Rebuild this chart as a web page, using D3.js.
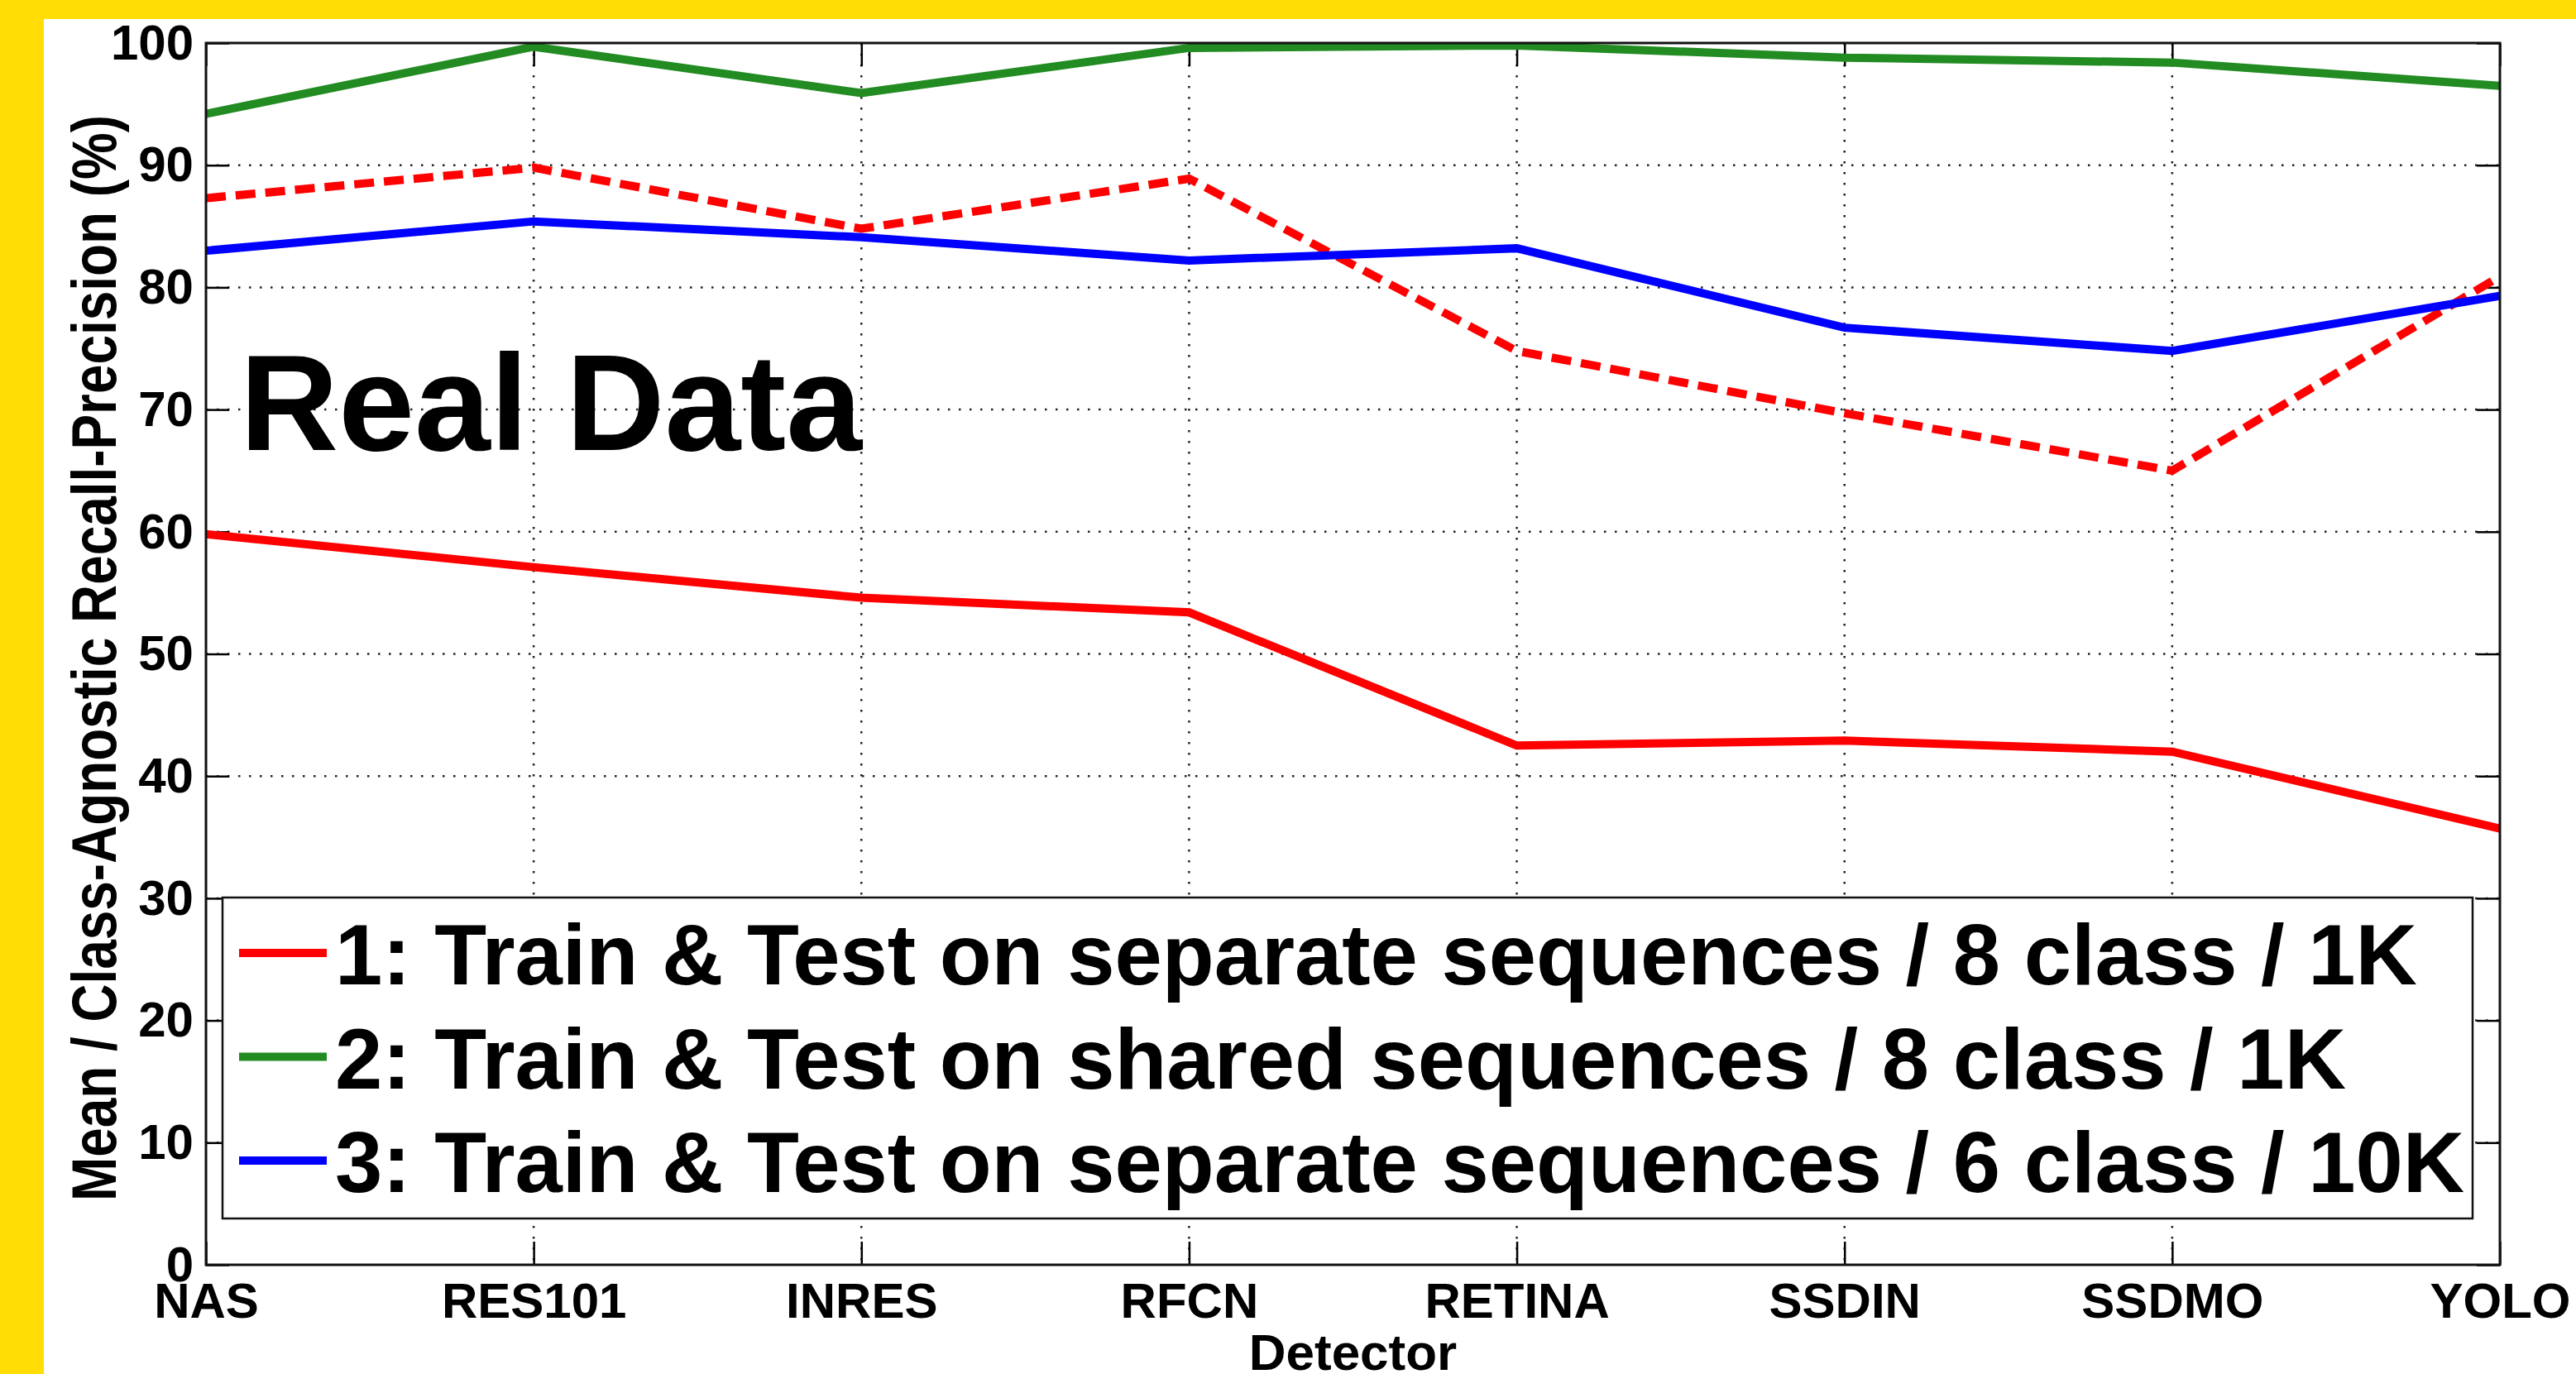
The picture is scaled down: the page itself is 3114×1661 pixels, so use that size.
<!DOCTYPE html>
<html>
<head>
<meta charset="utf-8">
<title>Real Data</title>
<script src="https://d3js.org/d3.v7.min.js"></script>
<style>
  body { margin: 0; background: #fff; }
  text { font-family: 'Liberation Sans', Arial, sans-serif; font-weight: bold; fill: #000; }
</style>
</head>
<body>
<div id="chart"></div>
<script>
// detectors on the x axis
const detectors = ["NAS", "RES101", "INRES", "RFCN", "RETINA", "SSDIN", "SSDMO", "YOLO"];
// 1: separate sequences / 8 class / 1K (solid red)
const sep8Mean = [59.8, 57.1, 54.6, 53.4, 42.5, 42.9, 42.0, 35.7];
// same setup, class-agnostic (dashed red, no legend entry)
const sep8Agnostic = [87.3, 89.8, 84.8, 88.9, 74.8, 69.7, 65.0, 80.9];
// 2: shared sequences / 8 class / 1K (green)
const shared8Mean = [94.2, 99.7, 95.9, 99.6, 99.8, 98.8, 98.4, 96.5];
// 3: separate sequences / 6 class / 10K (blue)
const sep6Mean = [83.0, 85.4, 84.1, 82.2, 83.2, 76.7, 74.8, 79.3];
const yTicks = [0, 10, 20, 30, 40, 50, 60, 70, 80, 90, 100];
const legendLabels = [
  "1: Train & Test on separate sequences / 8 class / 1K",
  "2: Train & Test on shared sequences / 8 class / 1K",
  "3: Train & Test on separate sequences / 6 class / 10K"
];

const W = 3114, H = 1661;
const plotL = 249, plotR = 3022, plotT = 52, plotB = 1529;
const tickLen = 28;

const svg = d3.select("#chart").append("svg")
  .attr("width", W).attr("height", H);

svg.append("rect").attr("width", W).attr("height", H).attr("fill", "#fff");
// yellow frame bits at the top and left
svg.append("rect").attr("x", 0).attr("y", 0).attr("width", W).attr("height", 23).attr("fill", "#ffdd05");
svg.append("rect").attr("x", 0).attr("y", 0).attr("width", 53).attr("height", H).attr("fill", "#ffdd05");

const x = d3.scalePoint().domain(detectors).range([plotL, plotR]);
const y = d3.scaleLinear().domain([0, 100]).range([plotB, plotT]);

// dotted grid
const grid = svg.append("g")
  .attr("stroke", "#222").attr("stroke-width", 2.5).attr("stroke-dasharray", "2.5 10.5");
grid.selectAll(".gy").data(yTicks.slice(1, -1)).join("line")
  .attr("x1", plotL).attr("x2", plotR)
  .attr("y1", d => y(d)).attr("y2", d => y(d));
grid.selectAll(".gx").data(detectors.slice(1, -1)).join("line")
  .attr("x1", d => x(d)).attr("x2", d => x(d))
  .attr("y1", plotT).attr("y2", plotB);

// axes with inward ticks
function styleAxis(g) {
  g.select(".domain").remove();
  g.selectAll(".tick line").attr("stroke", "#000").attr("stroke-width", 2.5);
  g.selectAll(".tick text").attr("font-size", 60).attr("font-family", null);
}

svg.append("g").attr("transform", `translate(${plotL},0)`)
  .call(d3.axisLeft(y).tickValues(yTicks).tickSizeInner(-tickLen).tickSizeOuter(0).tickPadding(15))
  .call(styleAxis);
svg.append("g").attr("transform", `translate(${plotR},0)`)
  .call(d3.axisRight(y).tickValues(yTicks).tickSizeInner(-tickLen).tickSizeOuter(0).tickFormat(""))
  .call(styleAxis);
svg.append("g").attr("transform", `translate(0,${plotB})`)
  .call(d3.axisBottom(x).tickSizeInner(-tickLen).tickSizeOuter(0).tickPadding(21))
  .call(styleAxis);
svg.append("g").attr("transform", `translate(0,${plotT})`)
  .call(d3.axisTop(x).tickSizeInner(-tickLen).tickSizeOuter(0).tickFormat(""))
  .call(styleAxis);

// series
svg.append("clipPath").attr("id", "plotclip")
  .append("rect").attr("x", plotL).attr("y", plotT).attr("width", plotR - plotL).attr("height", plotB - plotT);

const series = [
  { values: sep8Agnostic, color: "#ff0000", dash: "24 12" },
  { values: sep6Mean, color: "#0000ff", dash: null },
  { values: shared8Mean, color: "#228b22", dash: null },
  { values: sep8Mean, color: "#ff0000", dash: null }
];
const line = d3.line().x((d, i) => x(detectors[i])).y(d => y(d));
svg.append("g").attr("clip-path", "url(#plotclip)")
  .selectAll("path").data(series).join("path")
  .attr("d", d => line(d.values))
  .attr("fill", "none")
  .attr("stroke", d => d.color)
  .attr("stroke-width", 10)
  .attr("stroke-dasharray", d => d.dash);

// frame
svg.append("rect")
  .attr("x", plotL).attr("y", plotT).attr("width", plotR - plotL).attr("height", plotB - plotT)
  .attr("fill", "none").attr("stroke", "#111").attr("stroke-width", 3);

// big annotation
svg.append("text").attr("x", 290).attr("y", 544).attr("font-size", 165).text("Real Data");

// legend
const legendColors = ["#ff0000", "#228b22", "#0000ff"];
const lg = svg.append("g");
lg.append("rect").attr("x", 269).attr("y", 1085).attr("width", 2720).attr("height", 388)
  .attr("fill", "#fff").attr("stroke", "#111").attr("stroke-width", 2.5);
const rows = lg.selectAll("g.row").data(legendLabels).join("g")
  .attr("transform", (d, i) => `translate(0,${1190 + i * 125.5})`);
rows.append("line").attr("x1", 289).attr("x2", 395).attr("y1", -38).attr("y2", -38)
  .attr("stroke", (d, i) => legendColors[i]).attr("stroke-width", 10);
rows.append("text").attr("x", 405).attr("y", 0).attr("font-size", 103).text(d => d);

// axis titles
svg.append("text").attr("x", (plotL + plotR) / 2).attr("y", 1656)
  .attr("text-anchor", "middle").attr("font-size", 62).text("Detector");
svg.append("text")
  .attr("transform", `translate(140,${(plotT + plotB) / 2 + 5}) rotate(-90)`)
  .attr("text-anchor", "middle").attr("font-size", 76)
  .attr("textLength", 1313).attr("lengthAdjust", "spacingAndGlyphs")
  .text("Mean / Class-Agnostic Recall-Precision (%)");
</script>
</body>
</html>
